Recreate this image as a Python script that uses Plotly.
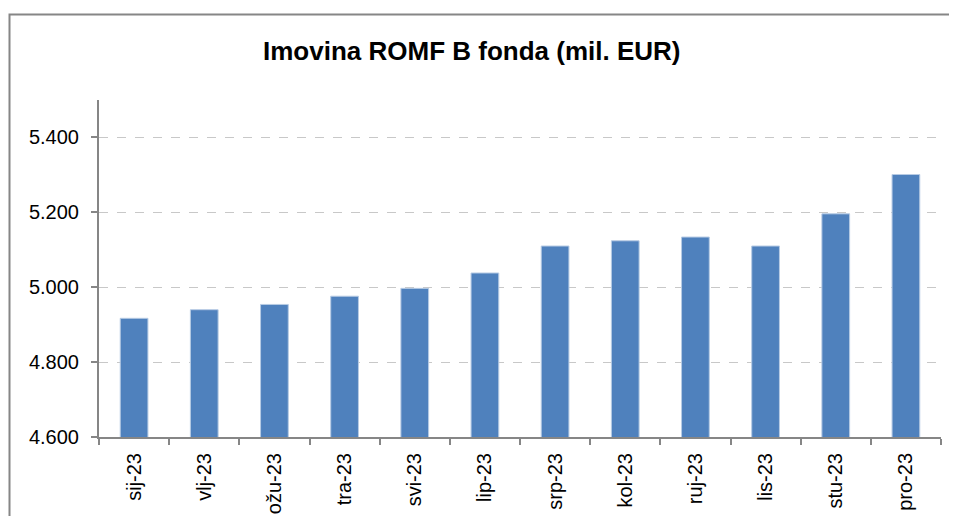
import plotly.graph_objects as go

categories = ["sij-23", "vlj-23", "ožu-23", "tra-23", "svi-23", "lip-23",
              "srp-23", "kol-23", "ruj-23", "lis-23", "stu-23", "pro-23"]
values = [4917, 4940, 4954, 4976, 4997, 5038, 5110, 5124, 5134, 5110, 5196, 5301]
tick_vals = [4600, 4800, 5000, 5200, 5400]
tick_text = ["4.600", "4.800", "5.000", "5.200", "5.400"]
title_text = "Imovina ROMF B fonda (mil. EUR)"

# the page body has an 8px margin, so the figure sits at (8, 8)
OFF = 8
W, H = 957 - OFF, 524 - 2 * OFF
# plot area in page pixels: x 99..941, y 100..437
L = 99 - OFF
T = 100 - OFF
R = W - (941 - OFF)
B = H - (437 - OFF)
pw, ph = W - L - R, H - T - B

def px_x(x):
    return (x - OFF - L) / pw

def px_y(y):
    return (H - B - (y - OFF)) / ph

fig = go.Figure()
fig.add_trace(go.Bar(
    x=categories, y=values,
    marker=dict(color="#4F81BD", line=dict(color="#B7CBE4", width=1)),
    hoverinfo="x+y",
))

axis_gray = "#868686"
fig.update_layout(
    width=W, height=H,
    margin=dict(l=L, r=R, t=T, b=B, autoexpand=False),
    paper_bgcolor="white", plot_bgcolor="white",
    font=dict(family="Liberation Sans, Arial, sans-serif", color="#000000", size=20),
    showlegend=False,
    bargap=0.605,
    xaxis=dict(
        type="category",
        automargin=False,
        showline=True, linecolor=axis_gray, linewidth=2,
        ticks="outside", tickson="boundaries", ticklen=6, tickcolor=axis_gray, tickwidth=1.5,
        tickangle=-90,
        tickfont=dict(size=20, color="#000000"),
        showgrid=False,
        ticklabelstandoff=6,
    ),
    yaxis=dict(
        range=[4600, 5500],
        automargin=False,
        tickvals=tick_vals, ticktext=tick_text,
        showline=True, linecolor=axis_gray, linewidth=2,
        ticks="outside", ticklen=6, tickcolor=axis_gray, tickwidth=1.5,
        tickfont=dict(size=20, color="#000000"),
        showgrid=True, gridcolor="#C8C8C8", griddash="dash", gridwidth=1.2,
        zeroline=False,
        ticklabelstandoff=8,
    ),
    annotations=[dict(
        text="<b>" + title_text + "</b>",
        xref="paper", yref="paper",
        x=px_x(471), y=px_y(51),
        xanchor="center", yanchor="middle",
        showarrow=False,
        font=dict(size=26, color="#000000", family="Liberation Sans, Arial, sans-serif"),
    )],
    shapes=[
        dict(type="rect", xref="paper", yref="paper",
             x0=px_x(9.5), x1=px_x(990), y0=px_y(600), y1=px_y(14.5),
             line=dict(color=axis_gray, width=2), fillcolor="rgba(0,0,0,0)", layer="below"),
    ],
)

fig.write_html("out.html")
